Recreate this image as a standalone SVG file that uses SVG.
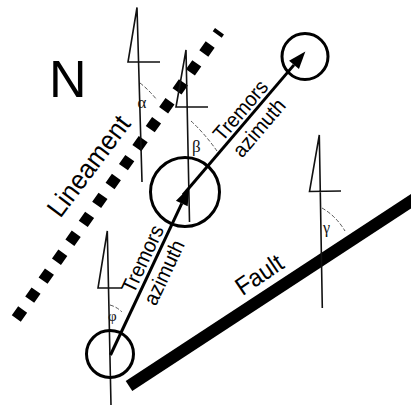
<svg xmlns="http://www.w3.org/2000/svg" width="411" height="405" viewBox="0 0 411 405">
<style>
.lbl{font-family:"Liberation Sans",Arial,sans-serif;fill:#000}
.grk{font-family:"Liberation Serif","Times New Roman",serif;fill:#111}
.north{fill:none;stroke:#111;stroke-width:1.6;stroke-linejoin:miter}
.arc{fill:none;stroke:#555;stroke-width:1;stroke-dasharray:4 2}
.circ{fill:none;stroke:#000;stroke-width:3}
.az{fill:none;stroke:#000;stroke-width:3}
</style>
<defs>
<marker id="ah" markerUnits="userSpaceOnUse" markerWidth="20" markerHeight="16" refX="0" refY="0" viewBox="0 -8 18 16" orient="auto">
<path d="M0,-6.5 L17.5,0 L0,6.5 z" fill="#000"/>
</marker>
</defs>
<rect width="411" height="405" fill="#fff"/>
<g id="north-label"><text class="lbl" x="49" y="97" font-size="52">N</text></g>
<g id="lineament">
<line x1="16.3" y1="318.5" x2="219.5" y2="31.3" stroke="#000" stroke-width="11" stroke-dasharray="11 12.19"/>
<text class="lbl" font-size="27" text-anchor="middle" textLength="119" lengthAdjust="spacingAndGlyphs" transform="translate(96,171.5) rotate(-53)">Lineament</text>
</g>
<g id="fault">
<line x1="129" y1="386" x2="416" y2="198" stroke="#000" stroke-width="12"/>
<text class="lbl" font-size="25" text-anchor="middle" textLength="52" lengthAdjust="spacingAndGlyphs" transform="translate(264,281.7) rotate(-34)">Fault</text>
</g>
<g id="north-alpha">
<path class="north" d="M160,62 L128,62 L137,7.5 L142,182"/>
<path class="arc" d="M140,83 Q149,90 157,100"/>
<text class="grk" x="137.5" y="108" font-size="17">α</text>
</g>
<g id="north-beta">
<path class="north" d="M208,107 L176,107 L186,50 L189.5,222"/>
<path class="arc" d="M191,121 Q205,134 217,151"/>
<text class="grk" x="192" y="152" font-size="17">β</text>
</g>
<g id="north-phi">
<path class="north" d="M122,288 L98,288 L107.3,231 L111,405"/>
<path class="arc" d="M110,305 Q117,307 122,312"/>
<text class="grk" x="108" y="321" font-size="15">φ</text>
</g>
<g id="north-gamma">
<path class="north" d="M341,191 L309.5,191.5 L319.3,135 L322.3,308"/>
<path class="arc" d="M322,208 Q336,216 345,231"/>
<text class="grk" x="323" y="233" font-size="16">γ</text>
</g>
<g id="circle-start"><circle class="circ" cx="110" cy="354" r="23.5"/></g>
<g id="circle-mid"><circle class="circ" cx="185" cy="192" r="34.5"/></g>
<g id="circle-end"><circle class="circ" cx="305" cy="56.5" r="23"/></g>
<g id="connectors">
<line class="az" x1="110.5" y1="355" x2="181.8" y2="203.4" marker-end="url(#ah)"/>
<line class="az" x1="183" y1="195" x2="294" y2="64.9" marker-end="url(#ah)"/>
<text class="lbl" font-size="21" text-anchor="middle" textLength="72" lengthAdjust="spacingAndGlyphs" transform="translate(149,262) rotate(-64.8)">Tremors</text>
<text class="lbl" font-size="21" text-anchor="middle" textLength="69" lengthAdjust="spacingAndGlyphs" transform="translate(170.5,275.5) rotate(-64.8)">azimuth</text>
<text class="lbl" font-size="21" text-anchor="middle" textLength="72" lengthAdjust="spacingAndGlyphs" transform="translate(246,115) rotate(-49.5)">Tremors</text>
<text class="lbl" font-size="21" text-anchor="middle" textLength="69" lengthAdjust="spacingAndGlyphs" transform="translate(264.5,132.5) rotate(-49.5)">azimuth</text>
</g>
</svg>
